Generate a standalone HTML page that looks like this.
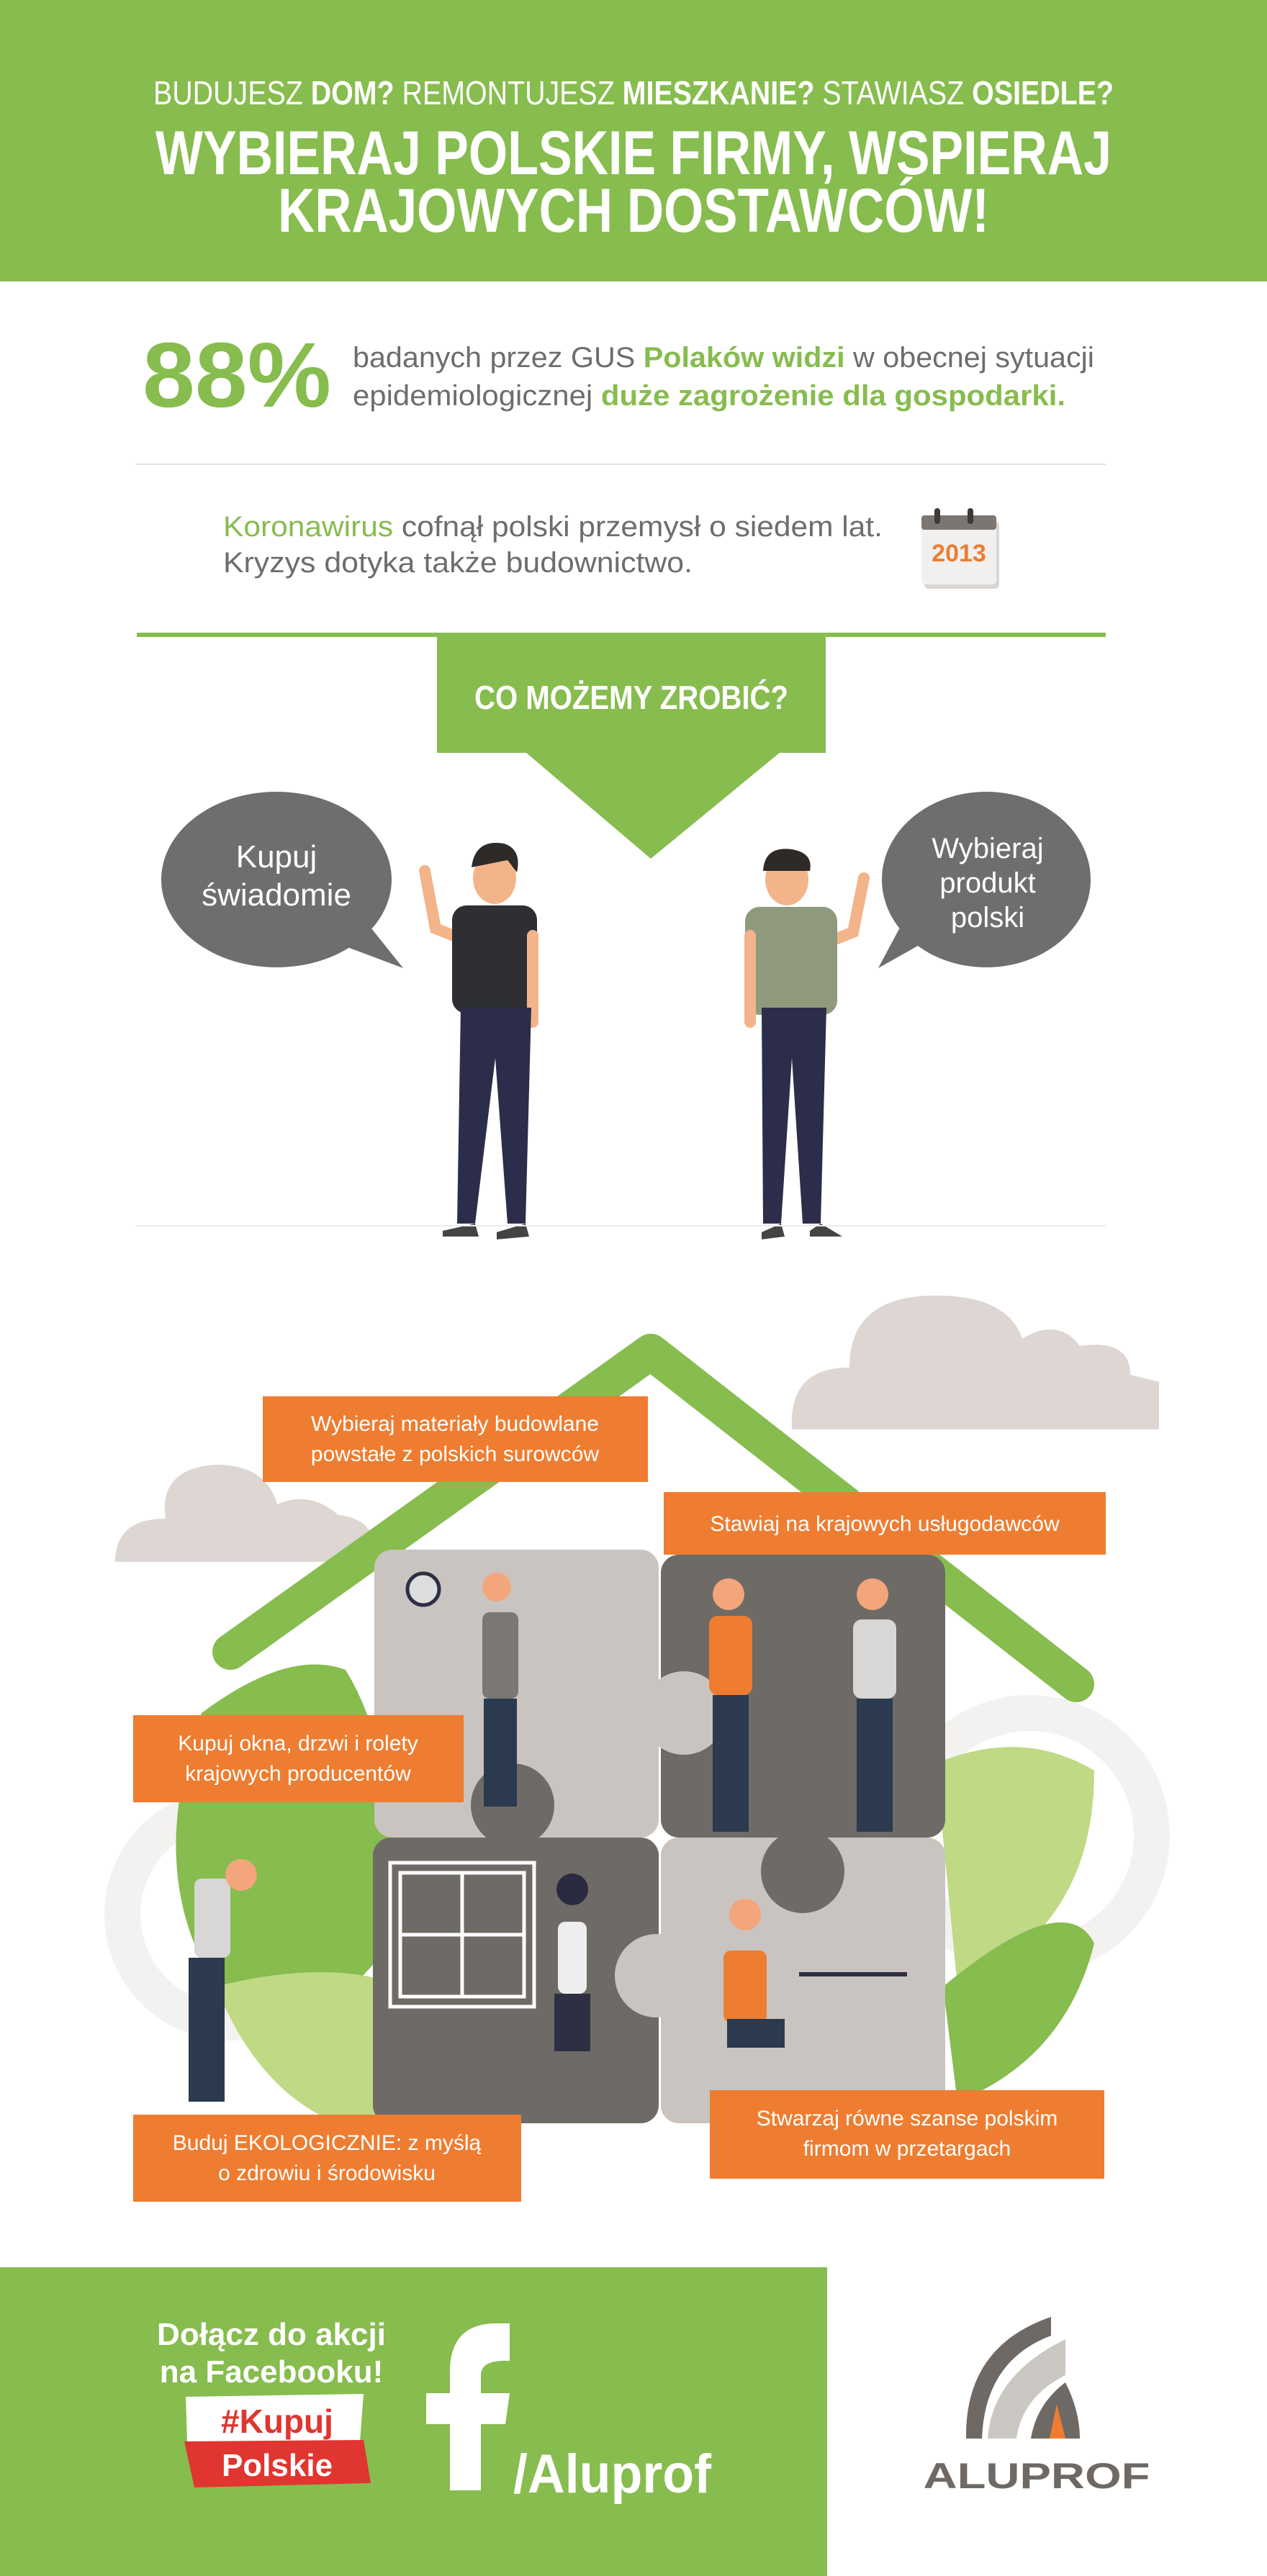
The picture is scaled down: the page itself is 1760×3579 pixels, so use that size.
<!DOCTYPE html>
<html><head><meta charset="utf-8"><style>
html,body{margin:0;padding:0;background:#fff}
svg{display:block}
text{font-family:"Liberation Sans Narrow","Liberation Sans",sans-serif}
</style></head><body>
<svg width="1760" height="3579" viewBox="0 0 1760 3579" xmlns="http://www.w3.org/2000/svg">
<!-- header -->
<rect x="0" y="0" width="1760" height="391" fill="#87bc4e"/>
<text x="880" y="145" text-anchor="middle" font-size="46" fill="#fff" textLength="1334" lengthAdjust="spacingAndGlyphs">BUDUJESZ <tspan font-weight="bold">DOM?</tspan> REMONTUJESZ <tspan font-weight="bold">MIESZKANIE?</tspan> STAWIASZ <tspan font-weight="bold">OSIEDLE?</tspan></text>
<text x="880" y="242" text-anchor="middle" font-size="86" font-weight="bold" fill="#fff" textLength="1328" lengthAdjust="spacingAndGlyphs">WYBIERAJ POLSKIE FIRMY, WSPIERAJ</text>
<text x="880" y="322" text-anchor="middle" font-size="86" font-weight="bold" fill="#fff" textLength="988" lengthAdjust="spacingAndGlyphs">KRAJOWYCH DOSTAWCÓW!</text>
<!-- 88% -->
<text x="198" y="565" font-size="128" font-weight="bold" fill="#87bc4e" textLength="262" lengthAdjust="spacingAndGlyphs">88%</text>
<text x="490" y="510" font-size="40" fill="#6d6d6d" textLength="1030" lengthAdjust="spacingAndGlyphs">badanych przez GUS <tspan fill="#87bc4e" font-weight="bold">Polaków widzi</tspan> w obecnej sytuacji</text>
<text x="490" y="563" font-size="40" fill="#6d6d6d" textLength="990" lengthAdjust="spacingAndGlyphs">epidemiologicznej <tspan fill="#87bc4e" font-weight="bold">duże zagrożenie dla gospodarki.</tspan></text>
<rect x="188" y="644" width="1348" height="2" fill="#e2e2e2"/>
<text x="310" y="745" font-size="40" fill="#6d6d6d" textLength="916" lengthAdjust="spacingAndGlyphs"><tspan fill="#87bc4e">Koronawirus</tspan> cofnął polski przemysł o siedem lat.</text>
<text x="310" y="795" font-size="40" fill="#6d6d6d" textLength="652" lengthAdjust="spacingAndGlyphs">Kryzys dotyka także budownictwo.</text>
<!-- calendar -->
<rect x="1284" y="724" width="104" height="94" rx="6" fill="#d9d6d3"/>
<rect x="1280" y="716" width="104" height="96" rx="6" fill="#f1f0ef"/>
<rect x="1280" y="716" width="104" height="20" rx="4" fill="#7b7672"/>
<rect x="1298" y="706" width="8" height="22" rx="4" fill="#3a3a3a"/>
<rect x="1344" y="706" width="8" height="22" rx="4" fill="#3a3a3a"/>
<text x="1332" y="780" text-anchor="middle" font-size="34" font-weight="bold" fill="#ee7d31">2013</text>
<!-- green bar + box -->
<rect x="190" y="879" width="1346" height="6" fill="#87bc4e"/>
<rect x="607" y="882" width="540" height="164" fill="#87bc4e"/>
<polygon points="730,1045 1084,1045 904,1193" fill="#87bc4e"/>
<text x="877" y="985" text-anchor="middle" font-size="46" font-weight="bold" fill="#fff" textLength="436" lengthAdjust="spacingAndGlyphs">CO MOŻEMY ZROBIĆ?</text>
<!-- bubbles -->
<ellipse cx="384" cy="1222" rx="160" ry="122" fill="#6e6e6e"/>
<polygon points="440,1300 560,1345 500,1270" fill="#6e6e6e"/>
<text x="384" y="1205" text-anchor="middle" font-size="44" fill="#fff" font-family="Liberation Sans">Kupuj</text>
<text x="384" y="1258" text-anchor="middle" font-size="44" fill="#fff" font-family="Liberation Sans">świadomie</text>
<ellipse cx="1370" cy="1222" rx="145" ry="122" fill="#6e6e6e"/>
<polygon points="1300,1300 1220,1345 1260,1270" fill="#6e6e6e"/>
<text x="1372" y="1192" text-anchor="middle" font-size="40" fill="#fff" font-family="Liberation Sans">Wybieraj</text>
<text x="1372" y="1240" text-anchor="middle" font-size="40" fill="#fff" font-family="Liberation Sans">produkt</text>
<text x="1372" y="1288" text-anchor="middle" font-size="40" fill="#fff" font-family="Liberation Sans">polski</text>
<!-- left man -->
<g>
<path d="M590,1210 L605,1290 L630,1300" stroke="#f3b48a" stroke-width="16" fill="none" stroke-linecap="round"/>
<rect x="628" y="1258" width="118" height="150" rx="20" fill="#2e2f33"/>
<ellipse cx="687" cy="1220" rx="30" ry="36" fill="#f3b48a"/>
<path d="M655,1205 Q660,1165 700,1172 Q725,1180 718,1212 L705,1195 Z" fill="#2e2a28"/>
<path d="M740,1300 L740,1420" stroke="#f3b48a" stroke-width="16" stroke-linecap="round"/>
<path d="M640,1400 L635,1700 L660,1700 L688,1470 L705,1700 L730,1700 L738,1400 Z" fill="#2b2d4a"/>
<path d="M615,1710 L660,1700 L665,1718 L615,1718Z M690,1712 L730,1700 L735,1718 L690,1722Z" fill="#444"/>
</g>
<!-- right man -->
<g>
<path d="M1200,1220 L1185,1295 L1160,1305" stroke="#f3b48a" stroke-width="16" fill="none" stroke-linecap="round"/>
<rect x="1035" y="1260" width="128" height="150" rx="20" fill="#8f9a7c"/>
<ellipse cx="1093" cy="1222" rx="30" ry="36" fill="#f3b48a"/>
<path d="M1060,1210 Q1062,1175 1100,1180 Q1130,1185 1125,1210 Z" fill="#2e2a28"/>
<path d="M1042,1300 L1042,1420" stroke="#f3b48a" stroke-width="16" stroke-linecap="round"/>
<path d="M1058,1400 L1060,1700 L1085,1700 L1100,1470 L1115,1700 L1140,1700 L1148,1400 Z" fill="#2b2d4a"/>
<path d="M1058,1712 L1085,1700 L1090,1718 L1058,1722Z M1125,1710 L1140,1700 L1170,1718 L1125,1718Z" fill="#444"/>
</g>
<rect x="188" y="1702" width="1348" height="2" fill="#ececec"/>
<!-- clouds -->
<path d="M1100,1986 Q1095,1900 1180,1900 Q1180,1800 1300,1800 Q1400,1800 1420,1860 Q1470,1830 1500,1870 Q1570,1860 1570,1910 L1610,1920 L1610,1986 Z" fill="#ddd6d2"/>
<path d="M160,2170 Q160,2110 230,2110 Q220,2040 300,2035 Q370,2035 385,2090 Q430,2070 470,2105 Q525,2110 525,2170 Z" fill="#ddd6d2"/>
<!-- gears -->
<circle cx="320" cy="2660" r="150" fill="none" stroke="#f4f2f1" stroke-width="50"/>
<circle cx="1430" cy="2550" r="170" fill="none" stroke="#f4f2f1" stroke-width="50"/>
<!-- leaves -->
<path d="M280,2380 Q200,2600 300,2760 Q440,2850 540,2700 Q560,2450 480,2320 Q400,2290 280,2380Z" fill="#87bc4e"/>
<path d="M300,2760 Q380,2960 560,2970 L560,2760 Q460,2720 300,2760Z" fill="#c0d985"/>
<path d="M1300,2450 Q1420,2400 1520,2460 Q1520,2680 1330,2760Z" fill="#c0d985"/>
<path d="M1310,2760 Q1480,2620 1520,2700 Q1480,2860 1330,2920Z" fill="#87bc4e"/>
<!-- roof -->
<polyline points="320,2295 904,1878 1495,2340" fill="none" stroke="#87bc4e" stroke-width="50" stroke-linecap="round" stroke-linejoin="round"/>
<!-- puzzle tiles -->
<rect x="520" y="2153" width="395" height="400" rx="25" fill="#c9c4c0"/>
<rect x="918" y="2160" width="395" height="393" rx="25" fill="#6e6a66"/>
<rect x="518" y="2553" width="397" height="397" rx="25" fill="#6e6a66"/>
<rect x="918" y="2553" width="395" height="397" rx="25" fill="#c9c4c0"/>
<circle cx="712" cy="2508" r="58" fill="#6e6a66"/>
<circle cx="950" cy="2380" r="58" fill="#c9c4c0"/>
<circle cx="912" cy="2745" r="58" fill="#c9c4c0"/>
<circle cx="1115" cy="2600" r="58" fill="#6e6a66"/>
<!-- window -->
<rect x="542" y="2588" width="200" height="200" fill="none" stroke="#fff" stroke-width="5"/>
<rect x="556" y="2602" width="172" height="172" fill="none" stroke="#fff" stroke-width="5"/>
<line x1="642" y1="2602" x2="642" y2="2774" stroke="#fff" stroke-width="5"/>
<line x1="556" y1="2688" x2="728" y2="2688" stroke="#fff" stroke-width="5"/>
<!-- simple figures -->
<g fill="#2b3a4f">
<rect x="670" y="2240" width="50" height="120" rx="10" fill="#7a7774"/>
<circle cx="690" cy="2205" r="20" fill="#f3a67c"/>
<rect x="672" y="2360" width="46" height="150" fill="#2b3a4f"/>
<circle cx="588" cy="2208" r="22" fill="#ddd" stroke="#2e2f44" stroke-width="5"/>
<rect x="985" y="2245" width="60" height="110" rx="12" fill="#ee7d31"/>
<circle cx="1012" cy="2215" r="22" fill="#f3a67c"/>
<rect x="990" y="2355" width="50" height="190" fill="#2b3a4f"/>
<rect x="1185" y="2250" width="60" height="110" rx="12" fill="#d8d7d5"/>
<circle cx="1212" cy="2215" r="22" fill="#f3a67c"/>
<rect x="1190" y="2360" width="50" height="185" fill="#2b3a4f"/>
<rect x="270" y="2610" width="50" height="110" rx="10" fill="#d8d7d5"/>
<circle cx="335" cy="2605" r="22" fill="#f3a67c"/>
<rect x="262" y="2720" width="50" height="200" fill="#2b3a4f"/>
<rect x="775" y="2670" width="40" height="100" rx="10" fill="#eee"/>
<circle cx="795" cy="2625" r="22" fill="#2a2a40"/>
<rect x="770" y="2770" width="50" height="80" fill="#2e2f44"/>
<rect x="1005" y="2710" width="60" height="100" rx="10" fill="#ee7d31"/>
<circle cx="1035" cy="2660" r="22" fill="#f3a67c"/>
<rect x="1110" y="2740" width="150" height="6" fill="#2e2f44"/>
<rect x="1010" y="2805" width="80" height="40" fill="#2b3a4f"/>
</g>
<!-- orange labels -->
<g font-family="Liberation Sans" font-size="30" fill="#fff" text-anchor="middle">
<rect x="365" y="1940" width="535" height="119" fill="#ee7d31" stroke="none"/>
<text x="632" y="1988">Wybieraj materiały budowlane</text>
<text x="632" y="2030">powstałe z polskich surowców</text>
<rect x="922" y="2073" width="614" height="87" fill="#ee7d31"/>
<text x="1229" y="2127">Stawiaj na krajowych usługodawców</text>
<rect x="185" y="2383" width="459" height="121" fill="#ee7d31"/>
<text x="414" y="2432">Kupuj okna, drzwi i rolety</text>
<text x="414" y="2474">krajowych producentów</text>
<rect x="185" y="2938" width="539" height="121" fill="#ee7d31"/>
<text x="454" y="2987">Buduj EKOLOGICZNIE: z myślą</text>
<text x="454" y="3029">o zdrowiu i środowisku</text>
<rect x="986" y="2904" width="548" height="123" fill="#ee7d31"/>
<text x="1260" y="2953">Stwarzaj równe szanse polskim</text>
<text x="1260" y="2995">firmom w przetargach</text>
</g>
<!-- footer -->
<rect x="0" y="3150" width="1149" height="429" fill="#87bc4e"/>
<text x="377" y="3258" text-anchor="middle" font-size="44" font-weight="bold" fill="#fff">Dołącz do akcji</text>
<text x="377" y="3310" text-anchor="middle" font-size="44" font-weight="bold" fill="#fff">na Facebooku!</text>
<path d="M258,3330 L505,3326 L500,3392 L260,3394 Z" fill="#fff"/>
<path d="M256,3392 L505,3390 L515,3450 L270,3456 Z" fill="#e03530"/>
<text x="385" y="3380" text-anchor="middle" font-size="46" font-weight="bold" fill="#e03530">#Kupuj</text>
<text x="385" y="3440" text-anchor="middle" font-size="44" font-weight="bold" fill="#fff">Polskie</text>
<path d="M625,3460 L625,3368 L592,3368 L592,3325 L625,3325 L625,3295 Q625,3228 690,3228 L708,3228 L708,3280 Q668,3278 668,3300 L668,3325 L708,3325 L702,3368 L668,3368 L668,3460 Z" fill="#fff"/>
<text x="713" y="3463" font-size="76" font-weight="bold" fill="#fff" textLength="275" lengthAdjust="spacingAndGlyphs">/Aluprof</text>
<!-- logo -->
<path d="M1342,3388 Q1340,3260 1460,3219 L1460,3245 Q1368,3280 1364,3388 Z" fill="#6e6964"/>
<path d="M1372,3388 Q1378,3300 1480,3250 L1480,3300 Q1420,3330 1412,3388 Z" fill="#cbc7c2"/>
<path d="M1432,3388 Q1440,3340 1480,3310 Q1500,3350 1500,3388 Z" fill="#6e6964"/>
<path d="M1458,3388 L1468,3340 L1480,3388 Z" fill="#ee7d31"/>
<text x="1440" y="3457" text-anchor="middle" font-size="50" font-weight="bold" fill="#6e6964" textLength="315" lengthAdjust="spacingAndGlyphs" font-family="Liberation Sans">ALUPROF</text>
</svg>
</body></html>
